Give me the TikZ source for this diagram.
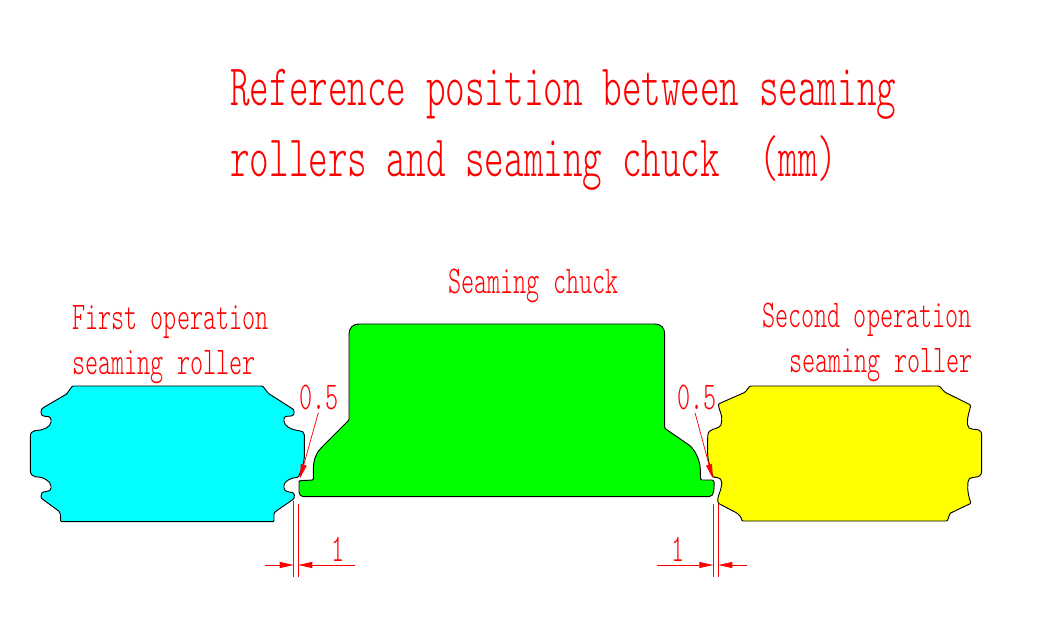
\documentclass[tikz,border=0pt]{standalone}
\usepackage{graphicx}
\usepackage{fontspec}
\newfontfamily\cadfont{Latin Modern Mono Light}
\usetikzlibrary{arrows.meta}
\definecolor{cadred}{RGB}{255,0,0}
\definecolor{cadcyan}{RGB}{0,255,255}
\definecolor{cadgreen}{RGB}{0,255,0}
\definecolor{cadyellow}{RGB}{255,255,0}
\newcommand{\cadt}[3]{\scalebox{#1}[1]{\fontsize{#2}{#2}\selectfont\cadfont #3}}
\tikzset{
  x=0.75pt,y=-0.75pt,
  part/.style={draw=black,line width=0.7pt,rounded corners=0.8pt},
  titletext/.style={inner sep=0pt,anchor=base west,text=cadred},
  labeltext/.style={inner sep=0pt,anchor=base west,text=cadred},
  dimline/.style={draw=cadred,line width=0.55pt},
  dimhead/.style={draw=cadred,line width=0.55pt,-{Triangle[length=10.5pt,width=4.5pt,fill=cadred]}}
}
\begin{document}
\begin{tikzpicture}
\useasboundingbox (0,0) rectangle (1053,635);
\fill[white] (0,0) rectangle (1053,635);
% first roller
\path[part,fill=cadcyan] (72.3,386) -- (66.7,394) -- (42.7,408) .. controls (41,410) and (40.5,414) .. (43,416) .. controls (47,416.5) and (51,416) .. (51,421) .. controls (51,427) and (42,430.5) .. (36,430.5) .. controls (32,431) and (30.3,433) .. (30.3,438) -- (30.3,469) .. controls (30.3,474) and (32,476) .. (36,477) .. controls (42,476.5) and (51,481) .. (51,487) .. controls (51,491) and (47,491.5) .. (43,492) .. controls (40.5,494) and (41,498) .. (42.7,499.3) -- (58,510.5) .. controls (60,512) and (60.7,514) .. (60.7,521.7) -- (274,521.7) -- (274,513) -- (276.7,510.7) -- (293.3,499.3) .. controls (295,497) and (294.5,493) .. (291.5,492.5) .. controls (287,491.5) and (284,491) .. (284,486.5) .. controls (284,481) and (292,477.5) .. (298.3,477.3) .. controls (301,471) and (304.3,463) .. (304.3,456) -- (304.3,436) .. controls (304.3,432) and (302,431) .. (298,430.5) .. controls (291,429.5) and (284,426) .. (284,420) .. controls (284,416) and (288,416) .. (292,416) .. controls (295,414) and (294,409.5) .. (291.7,408.3) -- (268.3,393.3) -- (262.7,386) -- cycle;
% chuck
\path[part,fill=cadgreen] (349,335) .. controls (349,328) and (353,324) .. (360,324) -- (654,324) .. controls (661,324) and (664.7,328) .. (664.7,335) -- (664.7,428.3) -- (689,445) .. controls (695,450) and (700,460) .. (700.3,470) -- (700.7,480) -- (712.7,480) -- (714.3,481.7) -- (713.8,490) .. controls (713.5,494) and (712,496.7) .. (708,496.7) -- (304,496.7) .. controls (301,496.7) and (299,494) .. (299,491) -- (299,480.7) -- (313.3,480) -- (313.3,470) .. controls (313.5,460) and (316,453) .. (322,447) -- (349,420) -- cycle;
% second roller
\path[part,fill=cadyellow] (750,386) -- (745,392.3) -- (718.3,404) .. controls (719,410) and (722,414) .. (721.7,420) .. controls (721.5,427) and (718,428) .. (714,429) .. controls (710,430) and (708,432) .. (707.7,437) -- (707.5,452) .. controls (708,462) and (711,470) .. (713.3,477.3) -- (716,477.3) .. controls (720,477.5) and (722,480) .. (721.7,484) .. controls (721,491) and (718,495) .. (717.7,500.7) -- (718.3,503.3) -- (737.3,513.3) -- (740.7,516.7) -- (742,521) -- (947.3,521) -- (950,513.3) -- (971,503.3) .. controls (969,498) and (967,490) .. (968,483) .. controls (968,479) and (970,477.5) .. (974,477.3) .. controls (979,477) and (981.7,475) .. (981.7,470) -- (981.7,436) .. controls (981.7,431) and (979,429.5) .. (974,429.3) .. controls (970,429) and (968,428) .. (967.5,424) .. controls (967,417) and (970,410) .. (970.7,405) -- (945,392.3) -- (939.3,386) -- cycle;
% title
\node[titletext] (t1) at (230,106) {\cadt{0.636}{44}{Reference position between seaming}};
\node[titletext] (t2) at (230,176) {\cadt{0.636}{44}{rollers and seaming chuck \ (mm)}};
% labels
\node[labeltext] (chuck) at (448,293) {\cadt{0.634}{29.5}{Seaming chuck}};
\node[labeltext] (first1) at (72,329) {\cadt{0.634}{29.5}{First operation}};
\node[labeltext] (first2) at (72,374) {\cadt{0.634}{29.5}{seaming roller}};
\node[labeltext] (second1) at (762,327) {\cadt{0.634}{29.5}{Second operation}};
\node[labeltext] (second2) at (789,372) {\cadt{0.634}{29.5}{seaming roller}};
\node[labeltext] (gapl) at (299,409) {\cadt{0.634}{29.5}{0.5}};
\node[labeltext] (gapr) at (677,409) {\cadt{0.634}{29.5}{0.5}};
\node[labeltext] (onel) at (331,561) {\cadt{0.634}{29.5}{1}};
\node[labeltext] (oner) at (671,561) {\cadt{0.634}{29.5}{1}};
% leaders
\coordinate (ll) at (318.3,412.7); \coordinate (lt) at (300,478.3);
\coordinate (rl) at (695,412.7); \coordinate (rt) at (712.7,478.3);
\draw[dimhead] (ll) -- (lt);
\draw[dimhead] (rl) -- (rt);
% dimensions left
\coordinate (a1) at (293.7,501); \coordinate (a2) at (293.7,577);
\coordinate (b1) at (298.3,504); \coordinate (b2) at (298.3,577);
\draw[dimline] (a1) -- (a2); \draw[dimline] (b1) -- (b2);
\coordinate (c1) at (265,565); \coordinate (c2) at (293.7,565);
\coordinate (d1) at (355,565); \coordinate (d2) at (298.3,565);
\draw[dimhead] (c1) -- (c2);
\draw[dimhead] (d1) -- (d2);
% dimensions right
\coordinate (e1) at (713.3,504); \coordinate (e2) at (713.3,577);
\coordinate (f1) at (718.3,504); \coordinate (f2) at (718.3,577);
\draw[dimline] (e1) -- (e2); \draw[dimline] (f1) -- (f2);
\coordinate (g1) at (657,565); \coordinate (g2) at (713.3,565);
\coordinate (h1) at (746.7,565); \coordinate (h2) at (718.3,565);
\draw[dimhead] (g1) -- (g2);
\draw[dimhead] (h1) -- (h2);
\end{tikzpicture}
\end{document}
